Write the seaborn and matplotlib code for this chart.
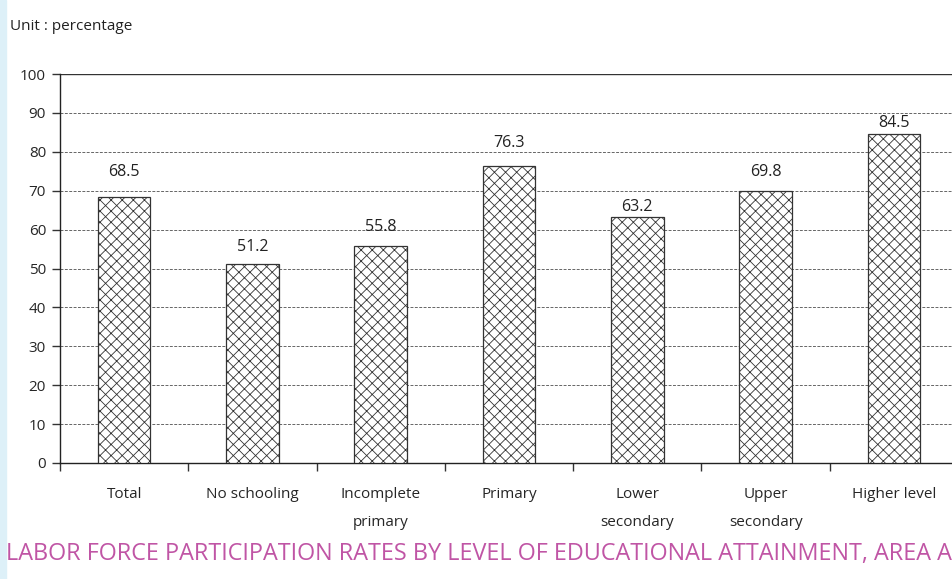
import matplotlib
matplotlib.use("Agg")
import matplotlib.pyplot as plt
import seaborn as sns
import pandas as pd
import matplotlib.patches as mpatches

categories = ["Total", "No schooling", "Incomplete\nprimary", "Primary",
              "Lower\nsecondary", "Upper\nsecondary", "Higher level"]
values = [68.5, 51.2, 55.8, 76.3, 63.2, 69.8, 84.5]
yticks = [0, 10, 20, 30, 40, 50, 60, 70, 80, 90, 100]
title = "LABOR FORCE PARTICIPATION RATES BY LEVEL OF EDUCATIONAL ATTAINMENT, AREA A"
unit_text = "Unit : percentage"
label_offsets = [12, 6, 8, 11, 1.5, 8, 2.5]  # points above bar (style)

sns.set_theme(style="white")
plt.rcParams['font.family'] = ['Open Sans', 'DejaVu Sans']
plt.rcParams['hatch.linewidth'] = 0.6
plt.rcParams['hatch.color'] = '#333333'

df = pd.DataFrame({"cat": categories, "val": values})

fig = plt.figure(figsize=(9.52, 5.79), dpi=100)
fig.patches.append(mpatches.Rectangle((0, 0), 6/952, 1, transform=fig.transFigure,
                                      color='#DDF0F8', zorder=0))
ax = fig.add_axes([60/952, 116/579, 898/952, 389/579])

sns.barplot(data=df, x="cat", y="val", ax=ax, color="white", width=0.41,
            edgecolor="#333333", linewidth=0.9, hatch="xxx", saturation=1, zorder=3)

ax.set_ylim(0, 100)
ax.set_xlim(-0.5, len(categories) - 0.5)
ax.set_yticks(yticks)
ax.set_yticklabels([str(t) for t in yticks], fontsize=11)
ax.yaxis.grid(True, linestyle=(0, (3, 1.5)), color='#666666', linewidth=0.7, zorder=0)
ax.set_axisbelow(True)
ax.set_xlabel("")
ax.set_ylabel("")

ax.set_xticks(range(len(categories)))
ax.set_xticklabels(categories, fontsize=11, linespacing=2.25, va='top')
ax.tick_params(axis='x', length=0, pad=17)
ax.set_xticks([i - 0.5 for i in range(len(categories) + 1)], minor=True)
ax.tick_params(axis='x', which='minor', length=6, width=1, color='#333333', direction='out', bottom=True)
ax.tick_params(axis='y', length=6, width=1, color='#333333', direction='out', left=True, pad=4)

for s in ['left', 'bottom']:
    ax.spines[s].set_color('#222222')
    ax.spines[s].set_linewidth(1.0)
ax.spines['right'].set_visible(False)
ax.spines['top'].set_visible(False)
ax.axhline(100, color='#333333', linewidth=1.0, zorder=1)

for i, (v, off) in enumerate(zip(values, label_offsets)):
    ax.annotate(f"{v:.1f}", (i, v), xytext=(0, off), textcoords='offset points',
                ha='center', va='bottom', fontsize=11.5, color='#222222')

fig.text(10/952, 1 - 27/579, unit_text, fontsize=11, va='center', ha='left', color='#222222')
fig.text(6/952, 1 - 554/579, title, fontsize=16.8, va='center', ha='left', color='#C055A5')

fig.savefig("out.png", dpi=100)
